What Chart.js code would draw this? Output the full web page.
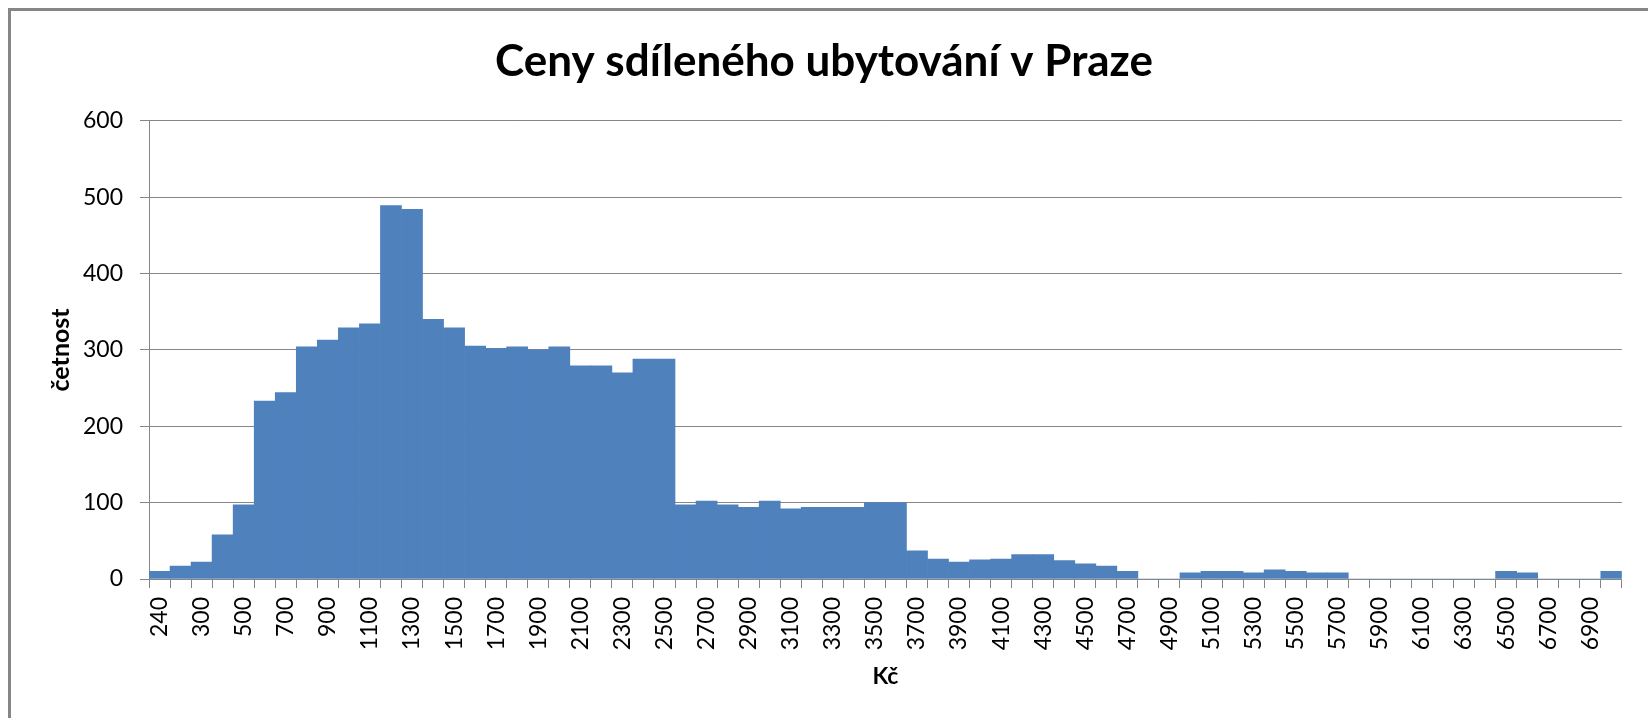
<!DOCTYPE html>
<html>
<head>
<meta charset="utf-8">
<script src="https://cdn.jsdelivr.net/npm/chart.js@4"></script>
<style>
  html, body { margin: 0; padding: 0; background: #fff; }
  canvas { display: block; }
</style>
</head>
<body>
<canvas id="histChart" width="1648" height="718"></canvas>
<script>
// price bins (Kč) and counts
const binLabels = [
    '240', '250', '300', '400', '500', '600', '700', '800', '900', '1000',
    '1100', '1200', '1300', '1400', '1500', '1600', '1700', '1800', '1900', '2000',
    '2100', '2200', '2300', '2400', '2500', '2600', '2700', '2800', '2900', '3000',
    '3100', '3200', '3300', '3400', '3500', '3600', '3700', '3800', '3900', '4000',
    '4100', '4200', '4300', '4400', '4500', '4600', '4700', '4800', '4900', '5000',
    '5100', '5200', '5300', '5400', '5500', '5600', '5700', '5800', '5900', '6000',
    '6100', '6200', '6300', '6400', '6500', '6600', '6700', '6800', '6900', '7000'
];
const counts = [
    10, 17, 22, 58, 97, 233, 244, 304, 313, 329,
    334, 489, 484, 340, 329, 305, 302, 304, 300, 304,
    279, 279, 270, 288, 288, 97, 102, 97, 94, 102,
    92, 94, 94, 94, 100, 100, 37, 26, 22, 25,
    26, 32, 32, 24, 20, 17, 10, 0, 0, 8,
    10, 10, 8, 12, 10, 8, 8, 0, 0, 0,
    0, 0, 0, 0, 10, 8, 0, 0, 0, 10
];
const yTicks = [0, 100, 200, 300, 400, 500, 600];

const gray = '#868686';
const barBlue = '#4F81BD';

// the grey outer frame of the Excel chart (only top and left edges are visible)
const framePlugin = {
    id: 'frame',
    beforeDraw(chart) {
        const ctx = chart.ctx;
        ctx.save();
        ctx.fillStyle = '#ffffff';
        ctx.fillRect(0, 0, chart.width, chart.height);
        ctx.fillStyle = gray;
        ctx.fillRect(8, 8, chart.width - 8, 3);
        ctx.fillRect(8, 8, 3, chart.height - 8);
        ctx.restore();
    }
};

const ctxHist = document.getElementById('histChart');

new Chart(ctxHist, {
    type: 'bar',
    data: {
        labels: binLabels,
        datasets: [{
            data: counts,
            backgroundColor: barBlue,
            borderWidth: 0,
            barPercentage: 1,
            categoryPercentage: 1
        }]
    },
    options: {
        responsive: false,
        animation: false,
        devicePixelRatio: 1,
        layout: {
            padding: { left: 12, right: 12, top: 0, bottom: 0 }
        },
        scales: {
            x: {
                afterFit(scale) { scale.height = 139; },
                grid: {
                    offset: true,
                    drawOnChartArea: false,
                    drawTicks: true,
                    tickLength: 9,
                    color: gray
                },
                border: { color: gray, width: 1 },
                ticks: {
                    autoSkip: false,
                    minRotation: 90,
                    maxRotation: 90,
                    padding: 9,
                    color: '#000',
                    font: { family: 'Lato', size: 23 },
                    callback: function (value, index) {
                        return index % 2 === 0 ? binLabels[index] : '';
                    }
                },
                title: {
                    display: true,
                    text: 'Kč',
                    color: '#000',
                    font: { family: 'Lato', size: 23, weight: 'bold' },
                    padding: { top: 0, bottom: 28 }
                }
            },
            y: {
                min: 0,
                max: 600,
                afterFit(scale) { scale.width = 137; },
                afterBuildTicks(scale) {
                    scale.ticks = yTicks.map(v => ({ value: v }));
                },
                grid: {
                    color: gray,
                    tickLength: 9
                },
                border: { color: gray, width: 1 },
                ticks: {
                    padding: 17,
                    color: '#000',
                    font: { family: 'Lato', size: 23 }
                },
                title: {
                    display: true,
                    text: 'četnost',
                    color: '#000',
                    font: { family: 'Lato', size: 25, weight: 'bold' },
                    padding: { top: 34, bottom: 0 }
                }
            }
        },
        plugins: {
            legend: { display: false },
            tooltip: { enabled: false },
            title: {
                display: true,
                text: 'Ceny sdíleného ubytování v Praze',
                color: '#000',
                font: { family: 'Lato', size: 44, weight: 'bold' },
                padding: { top: 35, bottom: 33 }
            }
        }
    },
    plugins: [framePlugin]
});
</script>
</body>
</html>
